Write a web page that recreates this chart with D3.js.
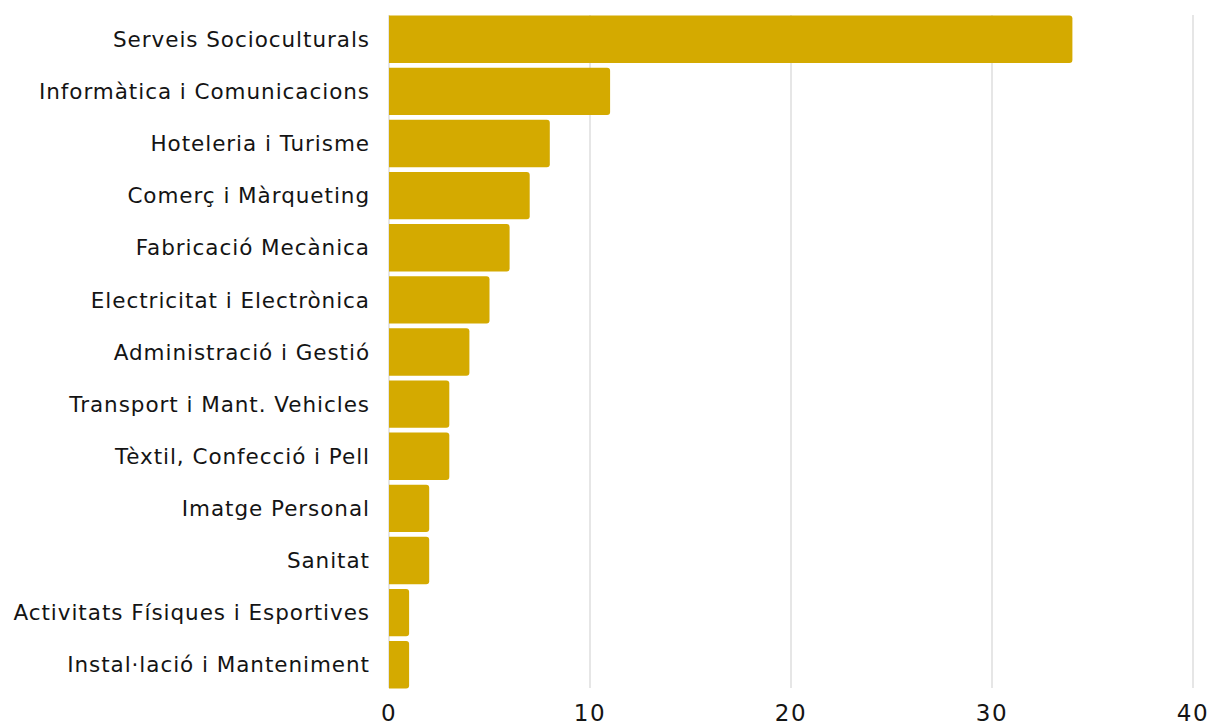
<!DOCTYPE html>
<html><head><meta charset="utf-8">
<script src="https://cdn.jsdelivr.net/npm/d3@7"></script>
<style>body{margin:0;background:#fff}svg{display:block}text{font-family:"DejaVu Sans",sans-serif;fill:#141414}</style>
</head><body><svg id="c" width="1211" height="724"></svg>
<script>
const categories = ["Serveis Socioculturals","Informàtica i Comunicacions","Hoteleria i Turisme","Comerç i Màrqueting","Fabricació Mecànica","Electricitat i Electrònica","Administració i Gestió","Transport i Mant. Vehicles","Tèxtil, Confecció i Pell","Imatge Personal","Sanitat","Activitats Físiques i Esportives","Instal·lació i Manteniment"];
const values = [34,11,8,7,6,5,4,3,3,2,2,1,1];
const xTicks = [0,10,20,30,40];

const svg = d3.select("#c");
const x = d3.scaleLinear().domain([0,40]).range([389,1193]);
const y = d3.scaleBand().domain(categories).range([14,690]).paddingInner(0.09).paddingOuter(0.03);

svg.append("g").selectAll("line").data(xTicks).join("line")
  .attr("x1",d=>x(d)).attr("x2",d=>x(d)).attr("y1",15).attr("y2",688)
  .attr("stroke","#dedede").attr("stroke-width",1.5);

const r = 3;
svg.append("g").selectAll("path").data(categories).join("path")
  .attr("fill","#D4AA00")
  .attr("d",(c,i)=>{
    const x0=x(0), x1=x(values[i]), y0=y(c), h=y.bandwidth();
    return `M${x0},${y0}H${x1-r}Q${x1},${y0} ${x1},${y0+r}V${y0+h-r}Q${x1},${y0+h} ${x1-r},${y0+h}H${x0}Z`;
  });

svg.append("g").selectAll("text").data(categories).join("text")
  .attr("x",370).attr("y",c=>y(c)+y.bandwidth()/2).attr("dy","0.36em")
  .attr("text-anchor","end").attr("font-size",21.5).attr("letter-spacing",0.95).text(c=>c);

svg.append("g").selectAll("text").data(xTicks).join("text")
  .attr("x",d=>x(d)).attr("y",721).attr("text-anchor","middle").attr("font-size",23).attr("letter-spacing",1.5).text(d=>d);
</script></body></html>
